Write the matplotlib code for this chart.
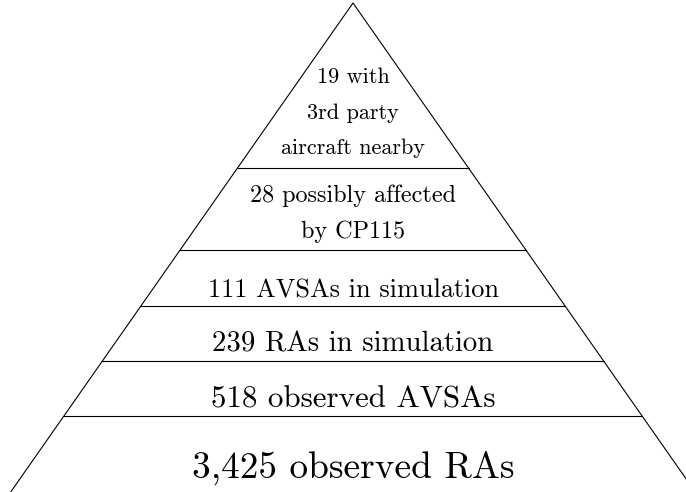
import matplotlib.pyplot as plt

plt.rcParams['font.family'] = 'cmr10'
plt.rcParams['axes.formatter.use_mathtext'] = True

# pyramid levels, top to bottom
levels = [
    ['19 with', '3rd party', 'aircraft nearby'],
    ['28 possibly affected', 'by CP115'],
    ['111 AVSAs in simulation'],
    ['239 RAs in simulation'],
    ['518 observed AVSAs'],
    ['3,425 observed RAs'],
]

# layout (pixel-like units, y grows downwards)
apex_x, apex_y = 353, 3
slope = 0.70
cuts = [168, 250, 306, 361, 416]
font_sizes = [16, 17.4, 18.9, 20.7, 22.3, 26.9]
baselines = [[83, 119, 154], [202, 238], [297], [352], [407], [478]]

fig = plt.figure(figsize=(6.86, 4.92), dpi=100)
ax = fig.add_axes([0, 0, 1, 1])
ax.set_xlim(0, 686)
ax.set_ylim(492, 0)
ax.axis('off')

bottom = 600
half = slope * (bottom - apex_y)
ax.plot([apex_x - half, apex_x, apex_x + half], [bottom, apex_y, bottom],
        color='black', lw=0.8)
for y in cuts:
    h = slope * (y - apex_y)
    ax.plot([apex_x - h, apex_x + h], [y, y], color='black', lw=0.8)

for lines, fs, ys in zip(levels, font_sizes, baselines):
    for txt, y in zip(lines, ys):
        ax.text(apex_x, y, txt, fontsize=fs, ha='center', va='baseline')

fig.savefig('out.png', dpi=100)
